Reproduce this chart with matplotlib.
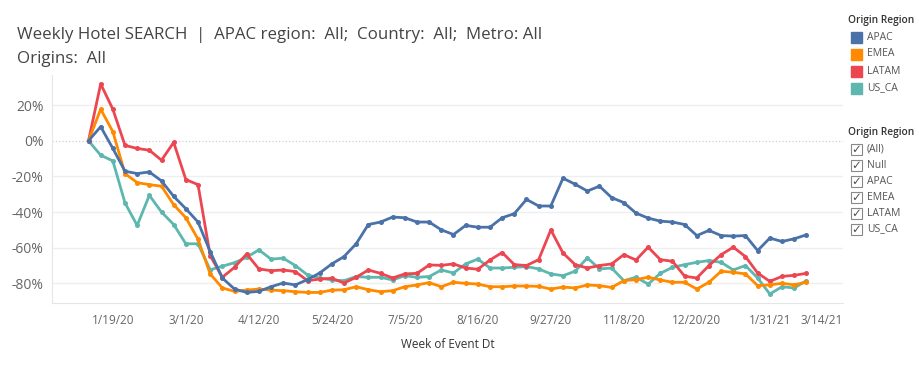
import matplotlib
matplotlib.use("Agg")
import matplotlib.pyplot as plt
from matplotlib.patches import Rectangle
import pandas as pd

# semanas (domingo) desde 1/5/20
semanas = pd.date_range("2020-01-05", periods=60, freq="7D")

# % de cambio semanal por region de origen
apac = [0, 7.9, -4.3, -17.1, -18.4, -17.5, -22.5, -31.2, -38.1, -45.6,
        -62.2, -77.0, -83.2, -85.1, -84.5, -81.9, -79.8, -80.9, -77.9, -74.2,
        -69.1, -65.0, -57.8, -47.0, -45.6, -42.8, -43.2, -45.6, -45.6, -50.0,
        -52.6, -47.5, -48.5, -48.5, -43.2, -40.9, -32.9, -36.6, -36.6, -21.0,
        -24.4, -28.2, -25.5, -31.9, -34.7, -40.6, -43.4, -45.1, -45.6, -47.0,
        -53.2, -50.3, -53.2, -53.5, -53.2, -61.6, -54.6, -56.5, -55.0, -52.8]
emea = [0, 17.7, 5.1, -18.4, -23.5, -24.6, -25.5, -35.9, -43.2, -55.2,
        -74.7, -82.6, -84.5, -83.8, -83.2, -83.8, -84.1, -84.7, -85.1, -85.1,
        -83.8, -83.6, -81.9, -83.6, -84.7, -84.1, -81.9, -80.9, -79.6, -81.9,
        -79.4, -80.0, -80.4, -81.9, -81.9, -81.5, -81.5, -81.7, -83.2, -82.1,
        -82.6, -80.9, -81.3, -82.3, -78.5, -77.9, -76.6, -78.1, -79.4, -79.4,
        -83.2, -79.4, -73.2, -73.8, -74.7, -81.3, -80.8, -80.0, -80.8, -79.4]
latam = [0, 31.9, 17.7, -2.6, -4.3, -5.3, -10.9, -0.9, -21.8, -24.6,
         -64.4, -76.6, -71.0, -63.5, -71.9, -72.9, -72.5, -73.4, -78.5, -77.6,
         -77.2, -79.8, -76.6, -72.5, -74.4, -77.0, -74.7, -74.4, -69.7, -69.9,
         -69.1, -71.4, -72.1, -66.9, -62.7, -69.5, -70.0, -66.7, -50.0, -63.0,
         -69.5, -71.4, -70.0, -69.1, -63.9, -66.9, -59.7, -66.7, -67.6, -76.0,
         -77.0, -70.0, -63.9, -59.7, -65.0, -74.2, -78.9, -76.1, -75.5, -74.4]
us_ca = [0, -8.1, -11.3, -34.9, -47.5, -30.6, -40.0, -47.0, -57.8, -57.8,
         -72.4, -70.4, -68.4, -65.4, -61.2, -66.4, -65.9, -70.0, -75.3, -77.0,
         -78.1, -78.5, -76.2, -76.6, -76.6, -78.1, -75.7, -76.6, -76.2, -72.5,
         -74.2, -69.1, -66.4, -71.4, -71.4, -71.0, -70.6, -71.9, -74.7, -75.7,
         -73.2, -65.7, -71.9, -71.4, -78.5, -76.6, -80.4, -74.4, -71.0, -69.5,
         -68.2, -67.2, -68.2, -72.5, -70.0, -77.0, -86.0, -81.9, -82.6, -78.5]

regiones = ["APAC", "EMEA", "LATAM", "US_CA"]
colores = ["#4a72a8", "#ff8a00", "#ec4651", "#5db7ae"]
filtros = ["(All)", "Null", "APAC", "EMEA", "LATAM", "US_CA"]

etiquetas_x = ["1/19/20", "3/1/20", "4/12/20", "5/24/20", "7/5/20", "8/16/20",
               "9/27/20", "11/8/20", "12/20/20", "1/31/21", "3/14/21"]
valores_y = [20, 0, -20, -40, -60, -80]

plt.rcParams["font.family"] = ["Open Sans", "DejaVu Sans"]

fig = plt.figure(figsize=(9.19, 3.65), dpi=100)
ax = fig.add_axes([0.0566, 0.17, 0.8605, 0.625])

series = [apac, emea, latam, us_ca]
for i in range(4):
	ax.plot(semanas, series[i], color=colores[i], lw=2, marker="o", ms=3.6,
		markeredgewidth=0, zorder=3 + (3 - i) * 0.1 if i != 0 else 4)

# ejes
ax.set_xlim(pd.Timestamp("2019-12-15"), pd.Timestamp("2021-03-14"))
ax.set_ylim(-91, 37)
ticks_x = pd.date_range("2020-01-19", periods=len(etiquetas_x), freq="42D")
ax.set_xticks(ticks_x)
ax.set_xticklabels(etiquetas_x)
ax.get_xticklabels()[-1].set_horizontalalignment("right")
ax.set_yticks(valores_y)
ax.set_yticklabels([str(v) + "%" for v in valores_y])
ax.tick_params(axis="x", length=0, labelsize=8.5, labelcolor="#666666", pad=8)
ax.tick_params(axis="y", length=0, labelsize=10, labelcolor="#666666", pad=6)

for v in valores_y:
	if v == 0:
		ax.axhline(0, color="#c8c8c8", lw=0.8, ls=(0, (1, 2)), zorder=1)
	else:
		ax.axhline(v, color="#efefef", lw=1, zorder=1)

for s in ["top", "right"]:
	ax.spines[s].set_visible(False)
ax.spines["left"].set_color("#e6e6e6")
ax.spines["bottom"].set_color("#e6e6e6")

ax.set_xlabel("Week of Event Dt", fontsize=8.5, color="#333333", labelpad=8)

# titulo
fig.text(0.019, 0.905, "Weekly Hotel SEARCH  |  APAC region:  All;  Country:  All;  Metro: All",
	fontsize=12.2, color="#444444", va="center")
fig.text(0.019, 0.838, "Origins:  All", fontsize=12.2, color="#444444", va="center")

# leyenda de colores
fig.text(848 / 919, 1 - 21 / 365, "Origin Region", fontsize=7.3, color="#333333",
	va="center", fontweight="semibold")
for i in range(4):
	yy = 1 - (37 + i * 17) / 365
	fig.patches.append(Rectangle((851 / 919, yy - 5.5 / 365), 11 / 919, 11 / 365,
		transform=fig.transFigure, color=colores[i]))
	fig.text(867 / 919, yy, regiones[i], fontsize=7.5, color="#555555", va="center")

# filtro con casillas
fig.text(848 / 919, 1 - 133 / 365, "Origin Region", fontsize=7.3, color="#333333",
	va="center", fontweight="semibold")
for i in range(len(filtros)):
	yy = 1 - (149 + i * 16) / 365
	fig.patches.append(Rectangle((851 / 919, yy - 5.5 / 365), 11 / 919, 11 / 365,
		transform=fig.transFigure, facecolor="white", edgecolor="#888888", lw=0.8))
	fig.text(856.5 / 919, yy, "\u2713", fontsize=8.5, color="#555555", va="center",
		ha="center", family=["DejaVu Sans"])
	fig.text(867 / 919, yy, filtros[i], fontsize=7.5, color="#555555", va="center")

fig.savefig("out.png", dpi=100)
